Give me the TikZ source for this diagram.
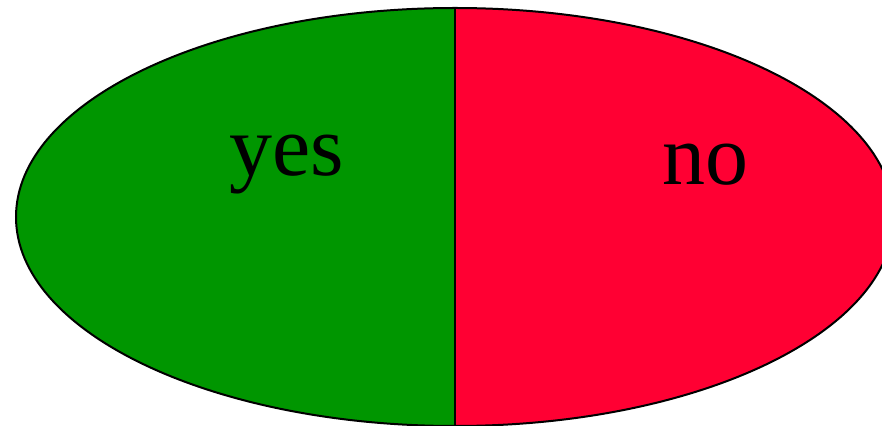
\documentclass[tikz,border=0pt]{standalone}
\usepackage{fontspec}
\setmainfont{Liberation Serif}
\definecolor{yesgreen}{RGB}{0,150,0}
\definecolor{nored}{RGB}{255,0,51}
\begin{document}
\begin{tikzpicture}[x=1pt,y=1pt,
  lbl/.style={anchor=base,inner sep=0pt,font=\fontsize{86}{86}\selectfont}]
\useasboundingbox (0,0) rectangle (882,425);
\coordinate (c) at (455,208);
\begin{scope}
  \clip (0,0) rectangle (455,425);
  \fill[yesgreen] (c) ellipse [x radius=439, y radius=209];
\end{scope}
\begin{scope}
  \clip (455,0) rectangle (1000,425);
  \fill[nored] (c) ellipse [x radius=439, y radius=209];
\end{scope}
\draw[line width=2pt] (c) ellipse [x radius=439, y radius=209];
\draw[line width=2pt] (455,-1) -- (455,417);
\node[lbl] (yes) at (287,249) {yes};
\node[lbl] (no) at (705,240) {no};
\end{tikzpicture}
\end{document}
